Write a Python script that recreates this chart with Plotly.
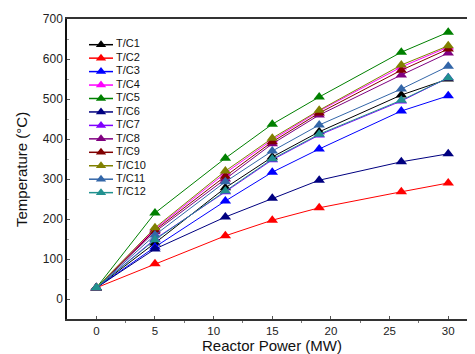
import plotly.graph_objects as go

power = [0, 5, 11, 15, 19, 26, 30]

names = ["T/C1", "T/C2", "T/C3", "T/C4", "T/C5", "T/C6",
         "T/C7", "T/C8", "T/C9", "T/C10", "T/C11", "T/C12"]

tc1 = [28, 140, 278, 355, 418, 510, 550]
tc2 = [28, 88, 158, 197, 228, 268, 290]
tc3 = [28, 130, 245, 317, 375, 470, 508]
tc4 = [28, 175, 315, 398, 470, 580, 630]
tc5 = [28, 215, 352, 437, 505, 617, 667]
tc6 = [28, 125, 205, 252, 297, 343, 363]
tc7 = [28, 150, 268, 348, 410, 495, 553]
tc8 = [28, 168, 300, 388, 460, 560, 615]
tc9 = [28, 172, 307, 393, 465, 572, 625]
tc10 = [28, 178, 320, 402, 472, 585, 633]
tc11 = [28, 160, 293, 370, 435, 525, 582]
tc12 = [28, 148, 270, 350, 412, 497, 553]

series = [tc1, tc2, tc3, tc4, tc5, tc6, tc7, tc8, tc9, tc10, tc11, tc12]

colors = ["#000000", "#FF0000", "#0000FF", "#FF00FF", "#008000", "#000080",
          "#8000FF", "#800080", "#800000", "#808000", "#3366A8", "#21918F"]

x_ticks = [0, 5, 10, 15, 20, 25, 30]
y_ticks = [0, 100, 200, 300, 400, 500, 600, 700]

# the page has an 8px body margin; figure coords = screen coords - 8
OFF = 8
W, H = 475 - OFF, 354 - OFF
L, T = 67 - OFF, 19 - OFF
pw, ph = 408, 300
R = W - L - pw
B = H - T - ph

font_fam = "Liberation Sans, Arial, sans-serif"

fig = go.Figure()

for i in range(len(series)):
    fig.add_trace(go.Scatter(
        x=power, y=series[i], name=names[i], mode="lines+markers",
        line=dict(color=colors[i], width=1),
        marker=dict(symbol="triangle-up", size=10, color=colors[i]),
        showlegend=False,
    ))

# custom legend drawn on an overlay axis measured in pixels of the plot area
leg_y0 = 44.7 - 19
leg_dy = 13.45
leg_x0, leg_x1, leg_xm, leg_xt = 89 - 67, 113 - 67, 101 - 67, 116 - 67
for i, nm in enumerate(names):
    yy = leg_y0 + i * leg_dy
    fig.add_trace(go.Scatter(
        x=[leg_x0, leg_x1], y=[yy, yy], mode="lines",
        line=dict(color=colors[i], width=1.5),
        xaxis="x2", yaxis="y2", showlegend=False, hoverinfo="skip",
    ))
    fig.add_trace(go.Scatter(
        x=[leg_xm], y=[yy], mode="markers",
        marker=dict(symbol="triangle-up", size=9, color=colors[i]),
        xaxis="x2", yaxis="y2", showlegend=False, hoverinfo="skip",
    ))
    fig.add_trace(go.Scatter(
        x=[leg_xt], y=[yy], mode="text", text=[nm], textposition="middle right",
        textfont=dict(size=11, color="#111111", family=font_fam),
        xaxis="x2", yaxis="y2", showlegend=False, hoverinfo="skip",
    ))

fig.update_layout(
    width=W, height=H,
    margin=dict(l=L, r=R, t=T, b=B, pad=0),
    paper_bgcolor="white", plot_bgcolor="white",
    font=dict(family=font_fam, color="#222222", size=12),
    showlegend=False,
    xaxis=dict(
        range=[-2.5, -2.5 + pw / 11.73], tickvals=x_ticks,
        automargin=False,
        showgrid=False, zeroline=False,
        showline=True, linecolor="#333333", linewidth=1.5, mirror=True,
        ticks="inside", ticklen=3, tickcolor="#555555",
        minor=dict(tickvals=[2.5, 7.5, 12.5, 17.5, 22.5, 27.5, 32.5],
                   ticks="outside", ticklen=2, tickcolor="#777777"),
        tickfont=dict(size=11.5, color="#222222"),
    ),
    yaxis=dict(
        range=[-50, 700], tickvals=y_ticks,
        automargin=False,
        showgrid=False, zeroline=False,
        showline=True, linecolor="#111111", linewidth=1.5,
        ticks="inside", ticklen=3, tickcolor="#555555",
        minor=dict(dtick=50, ticks="inside", ticklen=2, tickcolor="#999999"),
        tickfont=dict(size=12, color="#222222"),
    ),
    xaxis2=dict(range=[0, pw], overlaying="x", visible=False, fixedrange=True),
    yaxis2=dict(range=[ph, 0], overlaying="y", visible=False, fixedrange=True),
    annotations=[
        dict(text="Reactor Power (MW)", xref="paper", yref="paper",
             x=(272 - 67) / pw, y=(319 - 345.5) / ph,
             xanchor="center", yanchor="middle",
             showarrow=False, font=dict(size=15, color="#111111")),
        dict(text="Temperature (°C)", xref="paper", yref="paper",
             x=(21 - 67) / pw, y=(319 - 170) / ph, textangle=-90,
             xanchor="center", yanchor="middle",
             showarrow=False, font=dict(size=15, color="#111111")),
    ],
)

fig.write_html("out.html")
